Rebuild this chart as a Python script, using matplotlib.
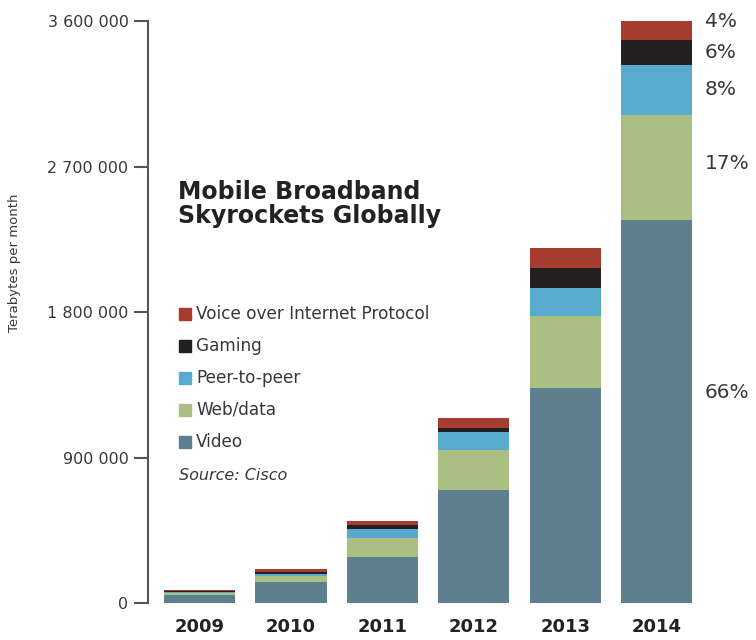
import numpy as np
import matplotlib
matplotlib.use("Agg")
import matplotlib.pyplot as plt

# Mobile broadband traffic, terabytes per month
years = ["2009", "2010", "2011", "2012", "2013", "2014"]
video = [48000, 128000, 285000, 699000, 1330000, 2369000]
web_data = [15000, 37000, 118000, 247000, 445000, 650000]
peer_to_peer = [6000, 12000, 56000, 111000, 173000, 309000]
gaming = [4000, 14000, 25000, 25000, 124000, 155000]
voip = [5000, 17000, 25000, 62000, 124000, 117000]

series_names = ["Video", "Web/data", "Peer-to-peer", "Gaming",
                "Voice over Internet Protocol"]
series_colors = ["#5d7f8e", "#abbf82", "#58abcc", "#231f20", "#a63b2f"]

share_labels = ["66%", "17%", "8%", "6%", "4%"]
yticks = [0, 900000, 1800000, 2700000, 3600000]
ytick_labels = ["0", "900 000", "1 800 000", "2 700 000", "3 600 000"]

text_col = "#383838"
axis_col = "#555555"

fig = plt.figure(figsize=(7.56, 6.4), dpi=100)
ax = fig.add_axes([148 / 756, 37 / 640, 600 / 756, 582 / 640])

x = np.arange(len(years))
bottom = np.zeros(len(years))
for vals, name, col in zip([video, web_data, peer_to_peer, gaming, voip],
                           series_names, series_colors):
    ax.bar(x, vals, width=0.78, bottom=bottom, color=col, label=name)
    bottom += np.array(vals)

ax.set_xlim(-0.563, 6.0)
ax.set_ylim(0, 3600000)
ax.set_yticks(yticks)
ax.set_yticklabels(ytick_labels, fontsize=11.5, color=text_col)
ax.set_xticks(x)
ax.set_xticklabels(years, fontsize=13, fontweight="bold", color="#222222")
ax.tick_params(axis="x", length=0, pad=11)
ax.tick_params(axis="y", length=10, width=1.5, color=axis_col, pad=4)
for s in ["top", "right", "bottom"]:
    ax.spines[s].set_visible(False)
ax.spines["left"].set_color(axis_col)
ax.spines["left"].set_linewidth(1.5)
ax.spines["left"].set_bounds(0, 3600000)

# share labels for 2014, next to the last bar
last = [video[-1], web_data[-1], peer_to_peer[-1], gaming[-1], voip[-1]]
tops = np.cumsum(last)
mids = tops - np.array(last) / 2
label_y = list(mids)
label_y[0] = 1305000
label_y[1] = 2720000
label_y[4] = 3594000
for lab, yy in zip(share_labels, label_y):
    ax.text(5.53, yy, lab, fontsize=14.5, color=text_col, va="center", ha="left")

# title
fig.text(178 / 756, 1 - 204 / 640, "Mobile Broadband\nSkyrockets Globally",
         fontsize=17, fontweight="bold", color="#222222", va="center",
         ha="left", linespacing=1.0)

# legend drawn by hand, top entry first
leg_y = [314, 346, 378, 410, 442]
for name, col, py in zip(series_names[::-1], series_colors[::-1], leg_y):
    fig.patches.append(plt.Rectangle((179 / 756, 1 - (py + 6) / 640),
                                     12 / 756, 12 / 640, color=col,
                                     transform=fig.transFigure, figure=fig))
    fig.text(196 / 756, 1 - py / 640, name, fontsize=12.2, color=text_col,
             va="center", ha="left")
fig.text(179 / 756, 1 - 476 / 640, "Source: Cisco", fontsize=11.5,
         style="italic", color=text_col, va="center", ha="left")

fig.text(15 / 756, 1 - 263 / 640, "Terabytes per month", fontsize=9.5,
         color=text_col, rotation=90, va="center", ha="center")

plt.savefig("out.png", dpi=100)
